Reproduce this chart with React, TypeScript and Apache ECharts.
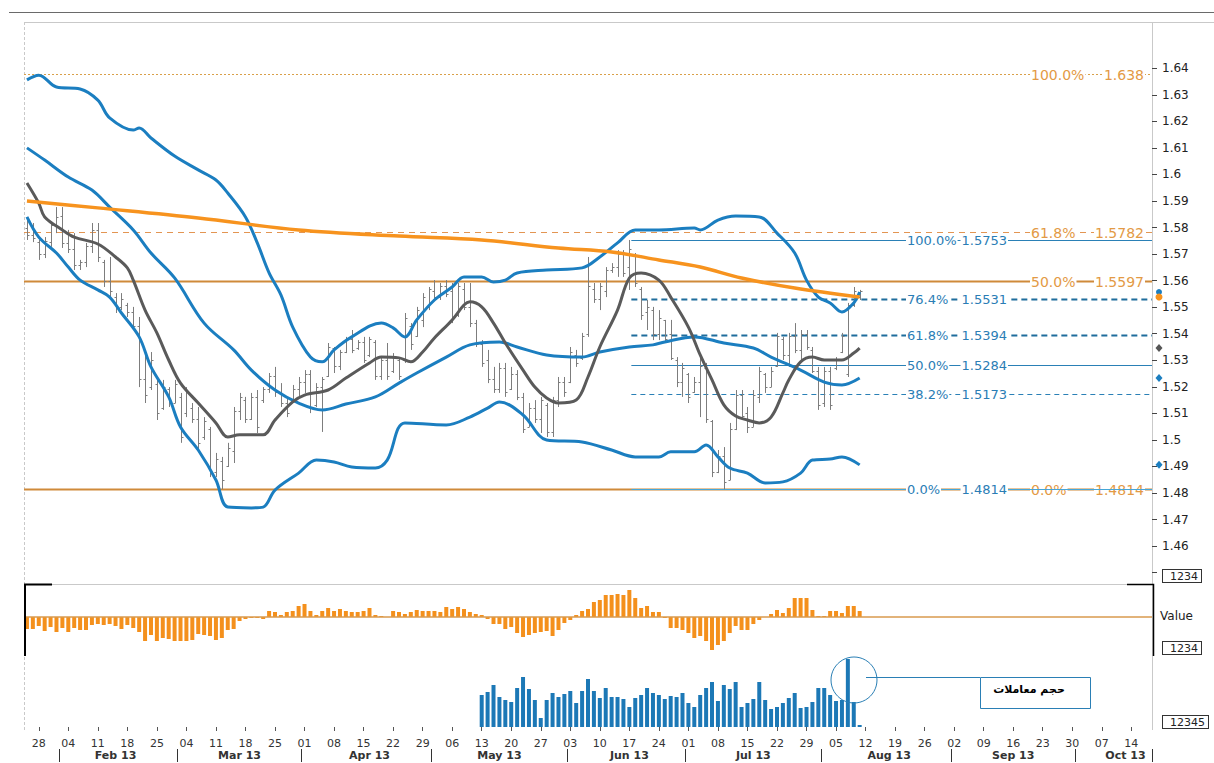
import React, { useEffect, useRef } from 'react';
import * as echarts from 'echarts';

// ---------- categories ----------
const FIRST_DAY = '2013-01-24';
const DAY_COUNT = 191; // trading days shown on the axis (to 2013-10-17)
const monthNames = ['Jan', 'Feb', 'Mar', 'Apr', 'May', 'Jun', 'Jul', 'Aug', 'Sep', 'Oct', 'Nov', 'Dec'];
const monthLabelDays = ['2013-02-14', '2013-03-15', '2013-04-16', '2013-05-16', '2013-06-17', '2013-07-16', '2013-08-16', '2013-09-16', '2013-10-11'];

// ---------- price bars (from 2013-01-24, one per trading day) ----------
const highs = [
  1.5828, 1.5817, 1.5753, 1.5764, 1.5821, 1.5877, 1.5877, 1.5791, 1.5779, 1.5678,
  1.5742, 1.5817, 1.5817, 1.5678, 1.5689, 1.5553, 1.5553, 1.5516, 1.5501, 1.5463,
  1.5327, 1.5331, 1.5226, 1.5226, 1.5199, 1.5226, 1.5177, 1.5199, 1.5139, 1.5124,
  1.5086, 1.5049, 1.4951, 1.4936, 1.4989, 1.5124, 1.5177, 1.5162, 1.5177, 1.5188,
  1.5199, 1.5252, 1.5275, 1.5214, 1.5162, 1.5207, 1.5237, 1.5263, 1.5263, 1.5214,
  1.5237, 1.5365, 1.5350, 1.5339, 1.5388, 1.5414, 1.5376, 1.5388, 1.5388, 1.5376,
  1.5312, 1.5365, 1.5327, 1.5312, 1.5478, 1.5440, 1.5501, 1.5553, 1.5576, 1.5602,
  1.5591, 1.5602, 1.5591, 1.5591, 1.5591, 1.5591, 1.5452, 1.5376, 1.5339, 1.5275,
  1.5290, 1.5290, 1.5275, 1.5263, 1.5177, 1.5139, 1.5150, 1.5162, 1.5139, 1.5162,
  1.5237, 1.5237, 1.5350, 1.5339, 1.5403, 1.5689, 1.5591, 1.5591, 1.5651, 1.5666,
  1.5715, 1.5715, 1.5753, 1.5704, 1.5576, 1.5527, 1.5501, 1.5489, 1.5452, 1.5452,
  1.5312, 1.5290, 1.5252, 1.5237, 1.5327, 1.5290, 1.5075, 1.4962, 1.4973, 1.5064,
  1.5188, 1.5188, 1.5124, 1.5188, 1.5275, 1.5252, 1.5275, 1.5403, 1.5388, 1.5403,
  1.5440, 1.5414, 1.5414, 1.5350, 1.5275, 1.5275, 1.5275, 1.5312, 1.5403, 1.5516,
  1.5576, 1.5565,
];
const lows = [
  1.5753, 1.5745, 1.5678, 1.5685, 1.5727, 1.5779, 1.5723, 1.5704, 1.5640, 1.5640,
  1.5651, 1.5704, 1.5670, 1.5576, 1.5538, 1.5478, 1.5489, 1.5463, 1.5414, 1.5199,
  1.5139, 1.5188, 1.5075, 1.5113, 1.5124, 1.5139, 1.4989, 1.5086, 1.5064, 1.4962,
  1.5000, 1.4860, 1.4860, 1.4814, 1.4898, 1.4913, 1.5075, 1.5064, 1.5075, 1.5026,
  1.5139, 1.5177, 1.5162, 1.5124, 1.5086, 1.5139, 1.5162, 1.5177, 1.5101, 1.5124,
  1.5030, 1.5237, 1.5252, 1.5263, 1.5327, 1.5327, 1.5339, 1.5290, 1.5312, 1.5226,
  1.5226, 1.5226, 1.5252, 1.5226, 1.5290, 1.5339, 1.5388, 1.5425, 1.5489, 1.5527,
  1.5527, 1.5538, 1.5440, 1.5463, 1.5489, 1.5425, 1.5350, 1.5275, 1.5214, 1.5177,
  1.5177, 1.5162, 1.5188, 1.5150, 1.5026, 1.5049, 1.5064, 1.5026, 1.5011, 1.5011,
  1.5124, 1.5162, 1.5214, 1.5275, 1.5301, 1.5388, 1.5516, 1.5489, 1.5538, 1.5629,
  1.5614, 1.5614, 1.5565, 1.5576, 1.5452, 1.5414, 1.5376, 1.5376, 1.5365, 1.5301,
  1.5199, 1.5162, 1.5139, 1.5177, 1.5086, 1.5064, 1.4860, 1.4875, 1.4814, 1.4849,
  1.5037, 1.5075, 1.5026, 1.5049, 1.5139, 1.5177, 1.5199, 1.5275, 1.5301, 1.5275,
  1.5327, 1.5301, 1.5339, 1.5252, 1.5113, 1.5124, 1.5113, 1.5263, 1.5327, 1.5237,
  1.5501, 1.5527,
];
const opens = [
  1.5800, 1.5770, 1.5745, 1.5700, 1.5745, 1.5810, 1.5845, 1.5740, 1.5720, 1.5660,
  1.5670, 1.5730, 1.5790, 1.5670, 1.5600, 1.5540, 1.5500, 1.5510, 1.5480, 1.5430,
  1.5230, 1.5200, 1.5210, 1.5120, 1.5190, 1.5140, 1.5160, 1.5100, 1.5120, 1.5080,
  1.5010, 1.5040, 1.4880, 1.4920, 1.4900, 1.4960, 1.5110, 1.5150, 1.5080, 1.5160,
  1.5150, 1.5190, 1.5240, 1.5180, 1.5140, 1.5150, 1.5190, 1.5220, 1.5250, 1.5130,
  1.5200, 1.5240, 1.5345, 1.5280, 1.5330, 1.5380, 1.5345, 1.5370, 1.5320, 1.5370,
  1.5240, 1.5300, 1.5260, 1.5300, 1.5300, 1.5430, 1.5390, 1.5450, 1.5500, 1.5560,
  1.5540, 1.5580, 1.5560, 1.5470, 1.5570, 1.5500, 1.5440, 1.5360, 1.5300, 1.5230,
  1.5190, 1.5270, 1.5190, 1.5250, 1.5160, 1.5050, 1.5120, 1.5080, 1.5130, 1.5030,
  1.5150, 1.5220, 1.5220, 1.5320, 1.5310, 1.5400, 1.5570, 1.5530, 1.5560, 1.5640,
  1.5650, 1.5700, 1.5650, 1.5700, 1.5570, 1.5480, 1.5490, 1.5400, 1.5450, 1.5400,
  1.5300, 1.5220, 1.5250, 1.5180, 1.5220, 1.5270, 1.5070, 1.4880, 1.4940, 1.4850,
  1.5040, 1.5170, 1.5100, 1.5050, 1.5160, 1.5250, 1.5200, 1.5280, 1.5380, 1.5320,
  1.5390, 1.5340, 1.5400, 1.5340, 1.5260, 1.5140, 1.5260, 1.5270, 1.5330, 1.5250,
  1.5510, 1.5540,
];
const closes = [
  1.5770, 1.5760, 1.5700, 1.5750, 1.5810, 1.5840, 1.5740, 1.5720, 1.5660, 1.5670,
  1.5730, 1.5790, 1.5690, 1.5600, 1.5560, 1.5500, 1.5530, 1.5480, 1.5430, 1.5230,
  1.5170, 1.5300, 1.5100, 1.5200, 1.5140, 1.5210, 1.5010, 1.5180, 1.5080, 1.4990,
  1.5070, 1.4880, 1.4930, 1.4850, 1.4970, 1.5110, 1.5160, 1.5080, 1.5160, 1.5050,
  1.5190, 1.5240, 1.5180, 1.5140, 1.5100, 1.5190, 1.5220, 1.5250, 1.5120, 1.5200,
  1.5230, 1.5350, 1.5280, 1.5330, 1.5380, 1.5340, 1.5370, 1.5300, 1.5380, 1.5240,
  1.5300, 1.5240, 1.5310, 1.5240, 1.5460, 1.5360, 1.5490, 1.5540, 1.5570, 1.5540,
  1.5580, 1.5550, 1.5460, 1.5580, 1.5500, 1.5440, 1.5360, 1.5290, 1.5230, 1.5190,
  1.5270, 1.5180, 1.5250, 1.5160, 1.5040, 1.5120, 1.5080, 1.5150, 1.5030, 1.5150,
  1.5220, 1.5180, 1.5330, 1.5290, 1.5390, 1.5580, 1.5530, 1.5580, 1.5640, 1.5650,
  1.5700, 1.5630, 1.5720, 1.5590, 1.5470, 1.5500, 1.5400, 1.5460, 1.5380, 1.5310,
  1.5220, 1.5270, 1.5160, 1.5220, 1.5280, 1.5080, 1.4880, 1.4940, 1.4840, 1.5040,
  1.5170, 1.5090, 1.5050, 1.5170, 1.5260, 1.5200, 1.5260, 1.5390, 1.5320, 1.5390,
  1.5340, 1.5400, 1.5350, 1.5260, 1.5130, 1.5260, 1.5130, 1.5300, 1.5390, 1.5510,
  1.5560, 1.5560,
];

// ---------- indicator lines: [trading-day index, value] ----------
const upperBand = [
  [0, 1.6356], [2, 1.6374], [5, 1.6329], [9, 1.6322], [12, 1.6280], [14, 1.6213], [18, 1.6167], [19, 1.6175],
  [21, 1.6137], [25, 1.6069], [29, 1.6017], [32, 1.5979], [34, 1.5930], [37, 1.5840], [39, 1.5742], [41, 1.5629],
  [43, 1.5546], [45, 1.5425], [48, 1.5312], [50, 1.5294], [52, 1.5339], [55, 1.5388], [60, 1.5440], [62, 1.5422],
  [64, 1.5388], [66, 1.5452], [69, 1.5527], [72, 1.5576], [74, 1.5614], [77, 1.5614], [79, 1.5595], [81, 1.5602],
  [83, 1.5629], [88, 1.5640], [94, 1.5648], [97, 1.5689], [100, 1.5742], [103, 1.5791], [107, 1.5791], [113, 1.5798],
  [114, 1.5791], [117, 1.5828], [120, 1.5843], [124, 1.5840], [127, 1.5779], [130, 1.5704], [132, 1.5602], [134, 1.5538],
  [136, 1.5516], [138, 1.5482], [140, 1.5516], [141, 1.5557],
];
const middleBand = [
  [0, 1.6100], [3, 1.6054], [7, 1.5990], [11, 1.5941], [14, 1.5877], [18, 1.5791], [21, 1.5704], [25, 1.5610],
  [30, 1.5440], [35, 1.5339], [38, 1.5263], [42, 1.5188], [46, 1.5139], [50, 1.5113], [54, 1.5135], [59, 1.5162],
  [63, 1.5214], [66, 1.5252], [71, 1.5312], [75, 1.5358], [80, 1.5369], [83, 1.5350], [88, 1.5320], [94, 1.5312],
  [97, 1.5331], [102, 1.5350], [106, 1.5358], [108, 1.5369], [113, 1.5388], [118, 1.5365], [123, 1.5346], [126, 1.5312],
  [131, 1.5263], [135, 1.5218], [138, 1.5207], [141, 1.5233],
];
const lowerBand = [
  [0, 1.5840], [2, 1.5764], [5, 1.5704], [7, 1.5651], [9, 1.5602], [12, 1.5565], [14, 1.5538], [16, 1.5478],
  [19, 1.5388], [21, 1.5275], [24, 1.5162], [26, 1.5049], [29, 1.4962], [32, 1.4849], [34, 1.4747], [38, 1.4744],
  [40, 1.4747], [42, 1.4811], [46, 1.4875], [49, 1.4924], [52, 1.4917], [55, 1.4898], [59, 1.4894], [61, 1.4924],
  [64, 1.5064], [71, 1.5056], [75, 1.5086], [78, 1.5120], [80, 1.5143], [84, 1.5094], [88, 1.5000], [94, 1.4992],
  [99, 1.4962], [103, 1.4936], [107, 1.4936], [109, 1.4955], [113, 1.4955], [115, 1.4981], [117, 1.4936], [119, 1.4894],
  [122, 1.4875], [125, 1.4838], [128, 1.4842], [131, 1.4875], [133, 1.4924], [136, 1.4928], [138, 1.4936], [141, 1.4906],
];
const shortMA = [
  [0, 1.5968], [2, 1.5892], [3, 1.5840], [6, 1.5791], [8, 1.5764], [12, 1.5738], [15, 1.5689], [17, 1.5648],
  [18, 1.5602], [20, 1.5489], [22, 1.5403], [24, 1.5301], [26, 1.5214], [29, 1.5139], [32, 1.5064], [34, 1.5011],
  [36, 1.5019], [40, 1.5019], [42, 1.5075], [45, 1.5143], [47, 1.5169], [51, 1.5188], [54, 1.5233], [58, 1.5290],
  [60, 1.5312], [63, 1.5309], [65, 1.5294], [67, 1.5331], [69, 1.5384], [72, 1.5452], [74, 1.5508], [75, 1.5520],
  [77, 1.5501], [79, 1.5440], [81, 1.5365], [84, 1.5263], [86, 1.5199], [88, 1.5158], [90, 1.5139], [93, 1.5150],
  [95, 1.5237], [97, 1.5350], [100, 1.5489], [102, 1.5610], [104, 1.5629], [107, 1.5602], [109, 1.5538], [112, 1.5425],
  [114, 1.5320], [116, 1.5226], [118, 1.5132], [120, 1.5090], [122, 1.5075], [124, 1.5064], [126, 1.5086], [128, 1.5177],
  [129, 1.5226], [131, 1.5294], [133, 1.5312], [135, 1.5301], [138, 1.5301], [140, 1.5327], [141, 1.5346],
];
const longMA = [
  [0, 1.5900], [12, 1.5874], [29, 1.5836], [46, 1.5791], [63, 1.5768], [77, 1.5753], [90, 1.5723], [99, 1.5708],
  [107, 1.5678], [114, 1.5651], [121, 1.5610], [130, 1.5572], [141, 1.5538],
];

// ---------- lower panels ----------
const oscillator = [
  -12, -12, -9, -14, -10, -15, -11, -15, -11, -13, -13, -8, -7, -8, -7, -9, -12, -8, -11, -15,
  -24, -18, -24, -21, -22, -24, -24, -24, -23, -17, -18, -19, -23, -21, -13, -12, -4, -2, -1, -1,
  -2, 6, 5, 2, 5, 6, 11, 13, 6, 2, 6, 9, 6, 8, 6, 5, 5, 6, 9, 2,
  1, 0, 6, 5, 3, 5, 7, 6, 6, 6, 5, 10, 8, 10, 8, 5, 3, 2, -2, -7,
  -7, -12, -10, -16, -20, -18, -16, -15, -14, -19, -13, -6, -3, 2, 6, 8, 15, 17, 22, 22,
  23, 22, 27, 19, 9, 11, 5, 5, -1, -11, -11, -13, -16, -21, -19, -24, -33, -28, -24, -16,
  -9, -13, -13, -7, -3, 0, 3, 7, 4, 9, 19, 19, 19, 7, 1, 1, 6, 6, 4, 11,
  11, 6,
];
const volumeStart = '2013-05-13';
const volume = [
  32, 35, 42, 30, 27, 25, 39, 50, 38, 27, 9, 27, 34, 30, 33, 36, 24, 36, 48, 36,
  29, 39, 30, 30, 28, 20, 29, 32, 39, 34, 32, 28, 31, 30, 34, 24, 20, 32, 39, 45,
  26, 42, 38, 45, 20, 24, 28, 45, 27, 18, 20, 24, 29, 34, 19, 20, 25, 39, 39, 32,
  26, 27, 68, 25, 2,
];

// ---------- fibonacci sets ----------
const fibOrangeLevels = [1.638, 1.5782, 1.5597, 1.4814];
const fibOrangePct = ['100.0%', '61.8%', '50.0%', '0.0%'];
const fibBlueAnchor = '2013-06-17';
const fibBlueLevels = [1.5753, 1.5531, 1.5394, 1.5284, 1.5173, 1.4814];
const fibBluePct = ['100.0%', '76.4%', '61.8%', '50.0%', '38.2%', '0.0%'];

// ---------- axis ticks / texts ----------
const yTickValues = [1.45, 1.46, 1.47, 1.48, 1.49, 1.5, 1.51, 1.52, 1.53, 1.54, 1.55, 1.56, 1.57, 1.58, 1.59, 1.6, 1.61, 1.62, 1.63, 1.64];
const yLabelValues = [1.46, 1.47, 1.48, 1.49, 1.5, 1.51, 1.52, 1.53, 1.54, 1.55, 1.56, 1.57, 1.58, 1.59, 1.6, 1.61, 1.62, 1.63, 1.64];
const annotationText = 'حجم معاملات';
const placeholderTexts = ['1234', '1234', '12345'];
const oscName = 'Value';

// ---------- styles ----------
const FONT = '"DejaVu Sans", Verdana, sans-serif';
const BLUE = '#1b7ec0';
const ORANGE = '#f7931e';
const GRAY_MA = '#5a5a5a';
const fibOrangeStyles = [
  { color: '#d9a04a', width: 1, dash: [2, 2] },
  { color: '#e39552', width: 1.2, dash: [6, 5] },
  { color: '#cf8a3a', width: 2, dash: null },
  { color: '#cf8a3a', width: 2, dash: null },
];
const fibBlueStyles = [
  { color: '#2a80b6', width: 1, dash: null },
  { color: '#1f6d9c', width: 2, dash: [6, 4] },
  { color: '#1f6d9c', width: 2, dash: [6, 4] },
  { color: '#2a80b6', width: 1.2, dash: null },
  { color: '#2a80b6', width: 1, dash: [5, 4] },
  { color: '#45a6d8', width: 1.2, dash: null },
];

function buildDates(): string[] {
  const out: string[] = [];
  const [y, m, d] = FIRST_DAY.split('-').map(Number);
  for (let t = Date.UTC(y, m - 1, d); out.length < DAY_COUNT; t += 86400000) {
    const dt = new Date(t);
    const wd = dt.getUTCDay();
    if (wd !== 0 && wd !== 6) out.push(dt.toISOString().slice(0, 10));
  }
  return out;
}

export default function App() {
  const ref = useRef<HTMLDivElement>(null);

  useEffect(() => {
    const dates = buildDates();
    const isMonday = dates.map((s) => new Date(s + 'T00:00:00Z').getUTCDay() === 1);
    const monthStart = dates.map((s, i) => i > 0 && s.slice(5, 7) !== dates[i - 1].slice(5, 7));
    const labelSet = new Set(monthLabelDays.map((s) => dates.indexOf(s)));
    const volStartIdx = dates.indexOf(volumeStart);
    const blueAnchorIdx = dates.indexOf(fibBlueAnchor);

    const chart = echarts.init(ref.current!, null, { renderer: 'svg' });

    const xBase = { type: 'category', data: dates, boundaryGap: true };

    const ohlcData = highs.map((_, i) => [i, opens[i], closes[i], lows[i], highs[i]]);

    const lineSeries = (data: number[][], color: string, width: number, z: number) => ({
      type: 'line',
      xAxisIndex: 0,
      yAxisIndex: 0,
      data,
      smooth: 0.35,
      symbol: 'none',
      showSymbol: false,
      lineStyle: { color, width },
      z,
      silent: true,
    });

    const textStyle = (text: string, color: string, size: number, align: string) => ({
      text,
      fill: color,
      font: `${size}px ${FONT}`,
      align,
      textAlign: align,
      verticalAlign: 'middle',
      textVerticalAlign: 'middle',
      backgroundColor: '#ffffff',
      padding: [0, 1],
    });

    const option: any = {
      animation: false,
      backgroundColor: '#ffffff',
      grid: [
        { left: 24, top: 22, width: 1128, height: 562, outerBoundsMode: 'none', containLabel: false },
        { left: 24, top: 584, width: 1128, height: 72, outerBoundsMode: 'none', containLabel: false },
        { left: 24, top: 656, width: 1128, height: 71, outerBoundsMode: 'none', containLabel: false },
      ],
      xAxis: [
        { ...xBase, gridIndex: 0, show: false },
        { ...xBase, gridIndex: 1, show: false },
        {
          ...xBase,
          gridIndex: 2,
          position: 'bottom',
          offset: 3,
          axisLine: { show: false },
          splitLine: { show: false },
          axisTick: { show: true, alignWithLabel: true, interval: (i: number) => isMonday[i], length: 4, lineStyle: { color: '#555' } },
          axisLabel: {
            interval: (i: number) => isMonday[i],
            formatter: (v: string) => v.slice(8, 10),
            margin: 8,
            fontSize: 11,
            color: '#333',
            fontFamily: FONT,
          },
        },
        {
          ...xBase,
          gridIndex: 2,
          position: 'bottom',
          offset: 22,
          axisLine: { show: false },
          splitLine: { show: false },
          axisTick: { show: true, interval: (i: number) => monthStart[i], length: 13, lineStyle: { color: '#333' } },
          axisLabel: {
            interval: (i: number) => labelSet.has(i),
            formatter: (v: string) => `${monthNames[Number(v.slice(5, 7)) - 1]} ${v.slice(2, 4)}`,
            margin: 0,
            fontSize: 11,
            lineHeight: 12,
            fontWeight: 'bold',
            color: '#333',
            fontFamily: FONT,
          },
        },
      ],
      yAxis: [
        {
          type: 'value',
          gridIndex: 0,
          position: 'right',
          min: 1.44573,
          max: 1.65741,
          axisLine: { show: false },
          splitLine: { show: false },
          axisTick: { show: true, customValues: yTickValues, length: 5, lineStyle: { color: '#444' } },
          axisLabel: {
            customValues: yLabelValues,
            formatter: (v: number) => String(Number(v.toFixed(2))),
            margin: 10,
            fontSize: 12,
            color: '#222',
            fontFamily: FONT,
          },
        },
        { type: 'value', gridIndex: 1, min: -39, max: 33, show: false, splitLine: { show: false } },
        { type: 'value', gridIndex: 2, min: 0, max: 71, show: false, splitLine: { show: false } },
      ],
      series: [
        {
          type: 'custom',
          name: 'fibA',
          xAxisIndex: 0,
          yAxisIndex: 0,
          z: 1,
          silent: true,
          data: fibOrangeLevels.map((v, k) => [0, v, k]),
          encode: { x: 0, y: 1 },
          renderItem: (params: any, api: any) => {
            const k = api.value(2);
            const y = Math.round(api.coord([0, api.value(1)])[1]) + 0.5;
            const cs = params.coordSys;
            const st = fibOrangeStyles[k];
            return {
              type: 'group',
              children: [
                { type: 'line', shape: { x1: cs.x, y1: y, x2: cs.x + cs.width, y2: y }, style: { stroke: st.color, lineWidth: st.width, lineDash: st.dash } },
                { type: 'text', x: 1030, y, style: textStyle(fibOrangePct[k], '#e39a45', 14, 'left') },
                { type: 'text', x: 1145, y, style: textStyle(String(fibOrangeLevels[k]), '#e39a45', 14, 'right') },
              ],
            };
          },
        },
        {
          type: 'custom',
          name: 'fibB',
          xAxisIndex: 0,
          yAxisIndex: 0,
          z: 1,
          silent: true,
          data: fibBlueLevels.map((v, k) => [blueAnchorIdx, v, k]),
          encode: { x: 0, y: 1 },
          renderItem: (params: any, api: any) => {
            const k = api.value(2);
            const p = api.coord([api.value(0), api.value(1)]);
            const y = Math.round(p[1]) + 0.5;
            const cs = params.coordSys;
            const st = fibBlueStyles[k];
            return {
              type: 'group',
              children: [
                { type: 'line', shape: { x1: p[0] + 2, y1: y, x2: cs.x + cs.width, y2: y }, style: { stroke: st.color, lineWidth: st.width, lineDash: st.dash } },
                { type: 'text', x: 906, y, style: textStyle(fibBluePct[k], '#2a7db5', 13, 'left') },
                { type: 'text', x: 1008, y, style: textStyle(String(fibBlueLevels[k]), '#2a7db5', 13, 'right') },
              ],
            };
          },
        },
        {
          type: 'custom',
          name: 'price',
          xAxisIndex: 0,
          yAxisIndex: 0,
          z: 2,
          silent: true,
          data: ohlcData,
          encode: { x: 0, y: [1, 2, 3, 4] },
          renderItem: (params: any, api: any) => {
            const i = api.value(0);
            const o = api.coord([i, api.value(1)]);
            const c = api.coord([i, api.value(2)]);
            const l = api.coord([i, api.value(3)]);
            const h = api.coord([i, api.value(4)]);
            const x = Math.round(h[0]) + 0.5;
            const st = { stroke: '#7d7d7d', lineWidth: 1 };
            return {
              type: 'group',
              children: [
                { type: 'line', shape: { x1: x, y1: h[1], x2: x, y2: l[1] }, style: st },
                { type: 'line', shape: { x1: x - 2, y1: Math.round(o[1]) + 0.5, x2: x, y2: Math.round(o[1]) + 0.5 }, style: st },
                { type: 'line', shape: { x1: x, y1: Math.round(c[1]) + 0.5, x2: x + 2, y2: Math.round(c[1]) + 0.5 }, style: st },
              ],
            };
          },
        },
        lineSeries(lowerBand, BLUE, 3, 3),
        lineSeries(middleBand, BLUE, 3, 3),
        lineSeries(upperBand, BLUE, 3, 3),
        lineSeries(shortMA, GRAY_MA, 3, 3),
        lineSeries(longMA, ORANGE, 3.5, 4),
        {
          type: 'bar',
          xAxisIndex: 1,
          yAxisIndex: 1,
          data: oscillator,
          barWidth: 4,
          silent: true,
          itemStyle: { color: '#f4901c' },
          markLine: {
            silent: true,
            symbol: ['none', 'none'],
            label: { show: false },
            lineStyle: { color: '#d99a4e', width: 1.5, type: 'solid' },
            data: [{ yAxis: 0 }],
          },
        },
        {
          type: 'bar',
          xAxisIndex: 2,
          yAxisIndex: 2,
          data: volume.map((v, k) => [volStartIdx + k, v]),
          barWidth: 4,
          silent: true,
          itemStyle: { color: '#1c78b6' },
        },
      ],
    };

    chart.setOption(option);

    const yPix = (v: number) => chart.convertToPixel({ yAxisIndex: 0 } as any, v) as number;
    const last = (a: number[][]) => a[a.length - 1][1];
    const mx = 1159;
    const diamond = (y: number, color: string) => ({
      type: 'polygon',
      shape: { points: [[mx, y - 4], [mx + 3.5, y], [mx, y + 4], [mx - 3.5, y]] },
      style: { fill: color },
      z: 50,
    });
    const dot = (y: number, color: string, r: number) => ({
      type: 'circle',
      shape: { cx: mx, cy: y, r },
      style: { fill: color },
      z: 50,
    });
    const boxText = (x: number, y: number, text: string) => ({
      type: 'text',
      x,
      y,
      z: 50,
      style: {
        text,
        font: `11px ${FONT}`,
        fill: '#222',
        align: 'left',
        textAlign: 'left',
        verticalAlign: 'middle',
        textVerticalAlign: 'middle',
        borderColor: '#333',
        borderWidth: 1,
        padding: [1, 3, 0, 7],
        backgroundColor: '#fff',
      },
    });

    const elements: any[] = [
      { type: 'line', shape: { x1: 9, y1: 12.5, x2: 1214, y2: 12.5 }, style: { stroke: '#6a6a6a', lineWidth: 1 } },
      { type: 'line', shape: { x1: 24, y1: 22.5, x2: 1214, y2: 22.5 }, style: { stroke: '#c9c9c9', lineWidth: 1 } },
      { type: 'line', shape: { x1: 24.5, y1: 22, x2: 24.5, y2: 730 }, style: { stroke: '#c9c9c9', lineWidth: 1, lineDash: [3, 2] } },
      { type: 'line', shape: { x1: 1152.5, y1: 22, x2: 1152.5, y2: 730 }, style: { stroke: '#c9c9c9', lineWidth: 1 } },
      { type: 'line', shape: { x1: 24, y1: 584.5, x2: 1152, y2: 584.5 }, style: { stroke: '#c9c9c9', lineWidth: 1 } },
      { type: 'polyline', shape: { points: [[25, 656], [25, 584.5], [52, 584.5]] }, style: { stroke: '#000', lineWidth: 2, fill: 'none' }, z: 40 },
      { type: 'polyline', shape: { points: [[1127, 584.5], [1153.5, 584.5], [1153.5, 656]] }, style: { stroke: '#000', lineWidth: 1.5, fill: 'none' }, z: 40 },
      boxText(1163, 576, placeholderTexts[0]),
      boxText(1163, 648, placeholderTexts[1]),
      boxText(1163, 722, placeholderTexts[2]),
      {
        type: 'text',
        x: 1160,
        y: 616,
        z: 50,
        style: { text: oscName, font: `12px ${FONT}`, fill: '#222', align: 'left', textAlign: 'left', verticalAlign: 'middle', textVerticalAlign: 'middle' },
      },
      { type: 'circle', shape: { cx: 854, cy: 680, r: 23 }, style: { stroke: '#2a7fb5', lineWidth: 1, fill: 'none' }, z: 45 },
      { type: 'line', shape: { x1: 866, y1: 677.5, x2: 980, y2: 677.5 }, style: { stroke: '#2a7fb5', lineWidth: 1 }, z: 45 },
      { type: 'rect', shape: { x: 980.5, y: 677.5, width: 110, height: 31 }, style: { stroke: '#2a7fb5', lineWidth: 1, fill: '#fff' }, z: 45 },
      {
        type: 'text',
        x: 1029,
        y: 689,
        z: 46,
        style: { text: annotationText, font: `bold 11px ${FONT}`, fill: '#000', align: 'center', textAlign: 'center', verticalAlign: 'middle', textVerticalAlign: 'middle' },
      },
      dot(yPix(last(upperBand)), BLUE, 3),
      dot(yPix(last(longMA)), ORANGE, 3.5),
      diamond(yPix(last(shortMA)), '#555'),
      diamond(yPix(last(middleBand)), BLUE),
      diamond(yPix(last(lowerBand)), BLUE),
    ];

    chart.setOption({ graphic: { elements } });

    return () => chart.dispose();
  }, []);

  return <div ref={ref} style={{ position: 'fixed', left: 0, top: 0, width: 1214, height: 763, background: '#fff' }} />;
}
